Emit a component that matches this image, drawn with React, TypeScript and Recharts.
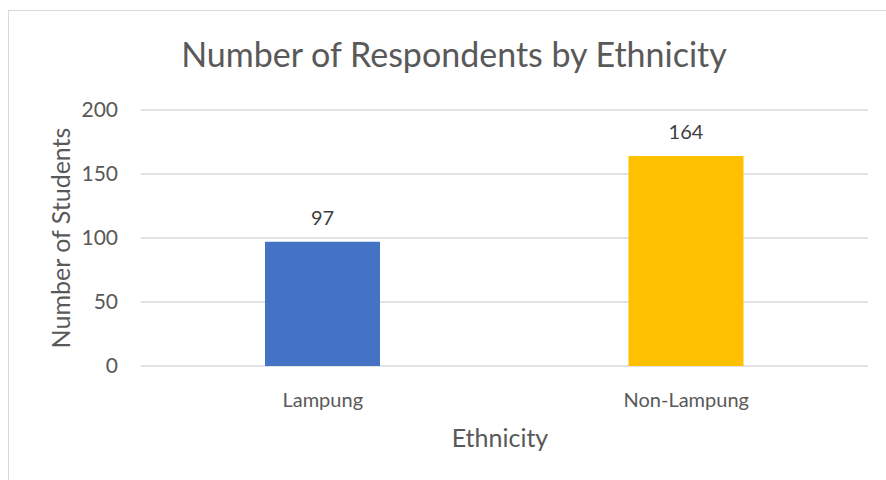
import { Bar, BarChart, CartesianGrid, Cell, LabelList, XAxis, YAxis } from "recharts";

const categories = ["Lampung", "Non-Lampung"];
const students = [97, 164];
const barColors = ["#4472C4", "#FFC000"];
const yTicks = [0, 50, 100, 150, 200];

const data = categories.map((name, i) => ({ name, students: students[i] }));

const FONT = "Lato, 'Open Sans', sans-serif";
const GRAY = "#595959";

export default function App() {
  return (
    <div style={{ position: "absolute", left: 0, top: 0, width: 886, height: 480, background: "#fff", overflow: "hidden", fontFamily: FONT }}>
      <div style={{ position: "absolute", left: 8, top: 10, width: 900, height: 500, border: "1px solid #d9d9d9" }} />
      <div style={{ position: "absolute", left: 0, width: 908, top: 33, textAlign: "center", fontSize: 34, color: GRAY, lineHeight: "41px", whiteSpace: "nowrap" }}>
        Number of Respondents by Ethnicity
      </div>
      <div style={{ position: "absolute", left: 141, width: 718, top: 422, textAlign: "center", fontSize: 25, color: GRAY, lineHeight: "30px" }}>
        Ethnicity
      </div>
      <div
        style={{
          position: "absolute",
          left: 60 - 150,
          top: 238 - 15,
          width: 300,
          textAlign: "center",
          fontSize: 25,
          color: GRAY,
          lineHeight: "30px",
          transform: "rotate(-90deg)",
        }}
      >
        Number of Students
      </div>
      <div style={{ position: "absolute", left: 0, top: 0 }}>
        <BarChart width={886} height={480} data={data} margin={{ top: 110, right: 18, bottom: 0, left: 0 }}>
          <CartesianGrid vertical={false} stroke="#d9d9d9" strokeWidth={1.3} />
          <XAxis
            dataKey="name"
            axisLine={false}
            tickLine={false}
            tickSize={0}
            tickMargin={27}
            height={114}
            tick={{ fill: GRAY, fontSize: 20, fontFamily: FONT }}
          />
          <YAxis
            domain={[0, 200]}
            ticks={yTicks}
            width={141}
            axisLine={false}
            tickLine={false}
            tickSize={0}
            tickMargin={23}
            tick={{ fill: GRAY, fontSize: 21, fontFamily: FONT }}
          />
          <Bar dataKey="students" barSize={115} isAnimationActive={false}>
            {data.map((d, i) => (
              <Cell key={d.name} fill={barColors[i]} />
            ))}
            <LabelList dataKey="students" position="top" offset={17} fill="#404040" fontSize={20} fontFamily={FONT} />
          </Bar>
        </BarChart>
      </div>
    </div>
  );
}
